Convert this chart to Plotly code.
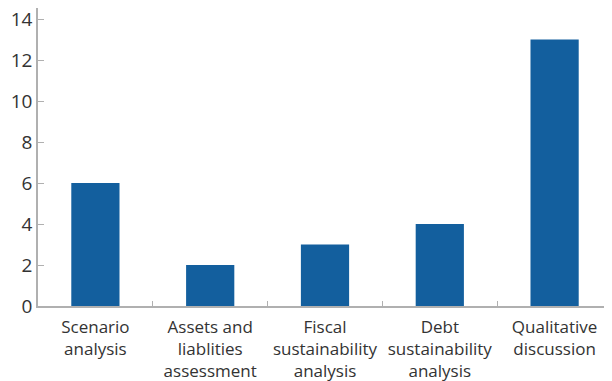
import plotly.graph_objects as go

categories = [
    "Scenario<br>analysis",
    "Assets and<br>liablities<br>assessment",
    "Fiscal<br>sustainability<br>analysis",
    "Debt<br>sustainability<br>analysis",
    "Qualitative<br>discussion",
]
counts = [6, 2, 3, 4, 13]
y_ticks = [0, 2, 4, 6, 8, 10, 12, 14]

BAR = "#135f9e"
AXIS = "#b0b0b0"
TEXT = "#333333"

fig = go.Figure()
fig.add_trace(go.Bar(x=categories, y=counts, marker=dict(color=BAR, line=dict(width=0))))
# invisible companion trace so the right-hand tick axis gets drawn
fig.add_trace(go.Scatter(x=categories, y=counts, yaxis="y2", mode="none",
                         hoverinfo="skip", showlegend=False))

# page body adds an 8px margin, so the figure is sized to fit the window
fig.update_layout(
    width=604,
    height=373,
    margin=dict(l=30, r=0, t=0, b=75),
    plot_bgcolor="white",
    paper_bgcolor="white",
    bargap=0.58,
    showlegend=False,
    font=dict(family="'Open Sans', sans-serif", size=17, color=TEXT),
    xaxis=dict(
        type="category",
        automargin=False,
        showline=True,
        linecolor=AXIS,
        linewidth=1.5,
        ticks="inside",
        tickson="boundaries",
        ticklen=5,
        tickcolor=AXIS,
        tickfont=dict(size=17, color=TEXT),
        ticklabelstandoff=5,
        showgrid=False,
    ),
    yaxis=dict(
        range=[0, 14.54],
        tickvals=y_ticks,
        automargin=False,
        ticklabeloverflow="allow",
        showline=True,
        linecolor=AXIS,
        linewidth=1.5,
        ticks="inside",
        ticklen=6,
        tickcolor=AXIS,
        tickfont=dict(size=19, color=TEXT),
        showgrid=False,
        zeroline=False,
    ),
    yaxis2=dict(
        overlaying="y",
        side="right",
        range=[0, 14.54],
        tickvals=y_ticks,
        automargin=False,
        showticklabels=False,
        ticks="inside",
        ticklen=5,
        tickcolor=AXIS,
        showline=False,
        showgrid=False,
        zeroline=False,
    ),
)

fig.write_html("out.html")
